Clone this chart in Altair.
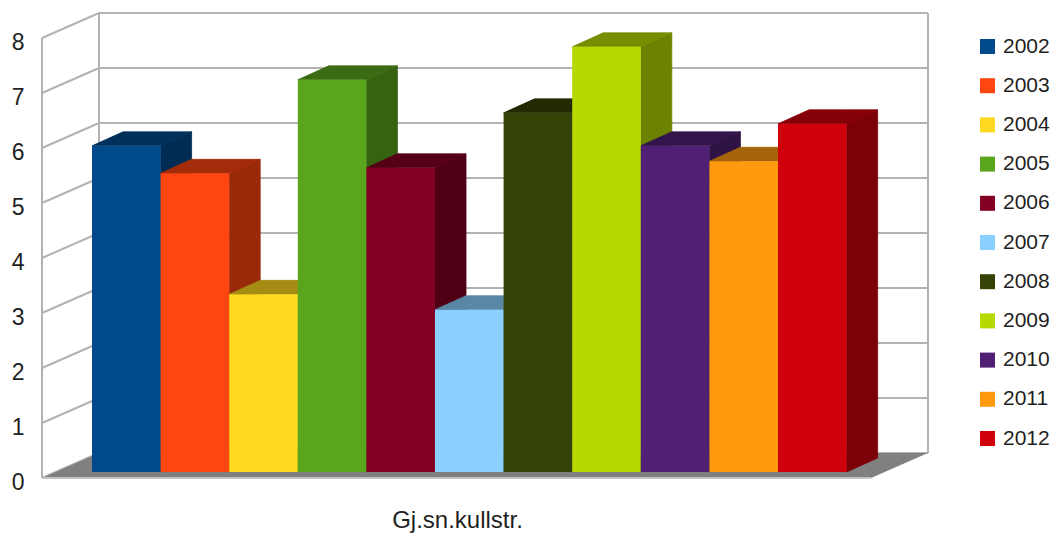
import altair as alt
import pandas as pd

# ---------------- data ----------------
years = ["2002", "2003", "2004", "2005", "2006", "2007",
         "2008", "2009", "2010", "2011", "2012"]
values = [5.93, 5.43, 3.23, 7.13, 5.53, 2.95, 6.53, 7.73, 5.93, 5.65, 6.33]
front_colors = ["#004a8c", "#ff4510", "#ffd820", "#5ba51d", "#840023", "#89d0ff",
                "#344205", "#b7d900", "#4f2074", "#ff9a0f", "#cf000c"]
y_ticks = [0, 1, 2, 3, 4, 5, 6, 7, 8]
x_title = "Gj.sn.kullstr."

# ---------------- layout / style constants ----------------
W, H = 886, 465
PPU = 55.0                 # pixels per value unit
DEPTH_X = 57               # wall depth (x, px units)
DEPTH_Y = 25 / PPU         # wall depth (y, value units)
FLOOR_RIGHT = 829
BAR_X0 = 50
BAR_W = 68.6
BAR_DX = 31
BAR_DY = 14 / PPU
BAR_Z = 6 / PPU
GRID_COL = "#b3b3b3"
FONT = "Liberation Sans"
TXT = "#1f1f1f"


def shade(hexcol, f):
    h = hexcol.lstrip("#")
    r, g, b = (int(h[i:i + 2], 16) for i in (0, 2, 4))
    return "#%02x%02x%02x" % (int(r * f), int(g * f), int(b * f))


# ---------------- geometry tables ----------------
back_lines = pd.DataFrame({"x": [DEPTH_X] * len(y_ticks), "x2": [W] * len(y_ticks),
                           "y": [t + DEPTH_Y for t in y_ticks]})
side_lines = pd.DataFrame({"x": [0] * len(y_ticks), "x2": [DEPTH_X] * len(y_ticks),
                           "y": list(y_ticks), "y2": [t + DEPTH_Y for t in y_ticks]})
verticals = pd.DataFrame({"x": [0, DEPTH_X, W],
                          "y": [0, DEPTH_Y, DEPTH_Y],
                          "y2": [y_ticks[-1], y_ticks[-1] + DEPTH_Y, y_ticks[-1] + DEPTH_Y]})
floor = pd.DataFrame({"x": [0, DEPTH_X, FLOOR_RIGHT, W],
                      "lo": [0, 0, 0, DEPTH_Y],
                      "hi": [0, DEPTH_Y, DEPTH_Y, DEPTH_Y]})
floor_edge = pd.DataFrame({"x": [0], "x2": [FLOOR_RIGHT], "y": [0]})

face_rows = []
front_rows = []
for i, (yr, val, col) in enumerate(zip(years, values, front_colors)):
    a = BAR_X0 + i * BAR_W
    b = a + BAR_W
    z = BAR_Z
    v = z + val
    sc = shade(col, 0.6)
    tc = shade(col, 0.65)
    ks = "%02da" % i
    kt = "%02db" % i
    face_rows += [
        {"key": ks, "x": b, "lo": z, "hi": v, "col": sc},
        {"key": ks, "x": b + BAR_DX, "lo": z + BAR_DY, "hi": v + BAR_DY, "col": sc},
        {"key": kt, "x": a, "lo": v, "hi": v, "col": tc},
        {"key": kt, "x": a + BAR_DX, "lo": v, "hi": v + BAR_DY, "col": tc},
        {"key": kt, "x": b, "lo": v, "hi": v + BAR_DY, "col": tc},
        {"key": kt, "x": b + BAR_DX, "lo": v + BAR_DY, "hi": v + BAR_DY, "col": tc},
    ]
    front_rows.append({"year": yr, "x": a, "x2": b, "y": z, "y2": v})
faces = pd.DataFrame(face_rows)
fronts = pd.DataFrame(front_rows)

# ---------------- scales / axes ----------------
xs = alt.Scale(domain=[0, W], nice=False, zero=False)
ys = alt.Scale(domain=[0, y_ticks[-1] + DEPTH_Y], nice=False, zero=False)
x_axis = alt.Axis(title=x_title, labels=False, ticks=False, domain=False, grid=False,
                  titleFontSize=24, titleFont=FONT, titleFontWeight="normal",
                  titleColor=TXT, titleX=415, titleY=49, titleAlign="center",
                  titleBaseline="alphabetic")
y_axis = alt.Axis(values=y_ticks, format="d", title=None, ticks=False, domain=False,
                  grid=False, labelFontSize=23, labelFont=FONT, labelColor=TXT,
                  labelPadding=18, labelOffset=4)


def X(f):
    return alt.X(f, scale=xs, axis=x_axis)


def Y(f):
    return alt.Y(f, scale=ys, axis=y_axis, stack=None)


l_back = alt.Chart(back_lines).mark_rule(color=GRID_COL, strokeWidth=2).encode(
    x=X("x:Q"), x2="x2", y=Y("y:Q"))
l_side = alt.Chart(side_lines).mark_rule(color=GRID_COL, strokeWidth=2).encode(
    x=X("x:Q"), x2="x2", y=Y("y:Q"), y2="y2")
l_vert = alt.Chart(verticals).mark_rule(color=GRID_COL, strokeWidth=2).encode(
    x=X("x:Q"), y=Y("y:Q"), y2="y2")
l_floor = alt.Chart(floor).mark_area(color="#808080", interpolate="linear").encode(
    x=X("x:Q"), y=Y("lo:Q"), y2="hi")
l_edge = alt.Chart(floor_edge).mark_rule(color="#c4c4c4", strokeWidth=2).encode(
    x=X("x:Q"), x2="x2", y=Y("y:Q"))
l_faces = alt.Chart(faces).mark_area(interpolate="linear", strokeWidth=0.8, opacity=1).encode(
    x=X("x:Q"), y=Y("lo:Q"), y2="hi",
    detail="key:N",
    fill=alt.Fill("col:N", scale=None, legend=None),
    stroke=alt.Stroke("col:N", scale=None, legend=None))
l_front = alt.Chart(fronts).mark_rect(opacity=1).encode(
    x=X("x:Q"), x2="x2", y=Y("y:Q"), y2="y2",
    color=alt.Color("year:N", scale=alt.Scale(domain=years, range=front_colors),
                    legend=alt.Legend(title=None, orient="none", legendX=935, legendY=23,
                                      symbolType="square", symbolSize=225,
                                      symbolStrokeWidth=0, symbolOpacity=1,
                                      labelFontSize=21, labelFont=FONT, labelColor=TXT,
                                      labelOffset=5, rowPadding=17.2, padding=0)))

chart = alt.layer(l_back, l_side, l_vert, l_floor, l_edge, l_faces, l_front).properties(
    width=W, height=H,
    padding={"left": 34, "top": 5, "right": 123, "bottom": 55},
    autosize=alt.AutoSizeParams(type="none"),
    background="white",
).configure_view(stroke=None)

chart.save("out.html", embed_options={"renderer": "svg", "actions": False})
